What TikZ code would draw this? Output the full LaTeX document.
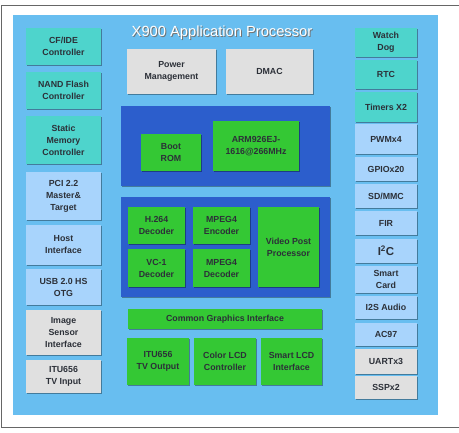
\documentclass[tikz,border=0pt]{standalone}
\usepackage{fontspec}
\setmainfont{Liberation Sans}
\usetikzlibrary{shadows}
\definecolor{panel}{RGB}{104,190,240}
\definecolor{tealbox}{RGB}{78,212,204}
\definecolor{lightbox}{RGB}{168,212,252}
\definecolor{graybox}{RGB}{224,224,224}
\definecolor{darkblue}{RGB}{44,94,204}
\definecolor{greenbox}{RGB}{52,200,52}
\definecolor{txt}{RGB}{44,48,56}
\newcommand\blk[7]{\node[#2, minimum width={#5-#3}, minimum height={#6-#4}] (#1) at ({(#3+#5)/2},{(#4+#6)/2}) {#7};}
\begin{document}
\begin{tikzpicture}[x=1pt,y=-1pt,
  base/.style={inner sep=0pt, outer sep=0pt, align=center, text=txt,
    font=\fontsize{8.8}{12}\selectfont\bfseries,
    drop shadow={shadow xshift=1.3pt, shadow yshift=-1.3pt, opacity=0.35, fill=black}},
  teal/.style={base, fill=tealbox},
  light/.style={base, fill=lightbox},
  grey/.style={base, fill=graybox},
  dblue/.style={base, fill=darkblue},
  green/.style={base, fill=greenbox},
]
\useasboundingbox (0,0) rectangle (459,433);
\fill[white] (0,0) rectangle (459,433);
\draw[gray!80!black, line width=0.8pt] (459,5.5) -- (1.5,5.5) -- (1.5,427.5) -- (459,427.5);
\fill[panel] (13,15) rectangle (438,415);
% title
\node[text=black!55, font=\fontsize{14.7}{16}\selectfont] (titleshadow) at (223,33.8) {X900 Application Processor};
\node[text=white, font=\fontsize{14.7}{16}\selectfont] (title) at (222,33) {X900 Application Processor};
% left column
\blk{cfide}{teal}{26}{28}{101}{65}{CF/IDE\\Controller}
\blk{nand}{teal}{26}{72}{101}{109}{NAND Flash\\Controller}
\blk{smc}{teal}{26}{116}{101}{164}{Static\\Memory\\Controller}
\blk{pci}{light}{26}{172}{101}{220}{PCI 2.2\\Master\&\\Target}
\blk{host}{light}{26}{225}{101}{265}{Host\\Interface}
\blk{usb}{light}{26}{269}{101}{305}{USB 2.0 HS\\OTG}
\blk{isi}{grey}{26}{310}{101}{355}{Image\\Sensor\\Interface}
\blk{tvin}{grey}{26}{360}{101}{393}{ITU656\\TV Input}
% right column
\blk{wdog}{teal}{355}{28}{417}{57}{Watch\\Dog}
\blk{rtc}{teal}{355}{60}{417}{89}{RTC}
\blk{timers}{teal}{355}{92}{417}{122}{Timers X2}
\blk{pwm}{light}{355}{124}{417}{154}{PWMx4}
\blk{gpio}{light}{355}{157}{417}{181}{GPIOx20}
\blk{sdmmc}{light}{355}{184}{417}{208}{SD/MMC}
\blk{fir}{light}{355}{211}{417}{235}{FIR}
\blk{i2c}{light}{355}{239}{417}{263}{\fontsize{11.5}{12}\selectfont I\textsuperscript{2}C}
\blk{scard}{light}{355}{266}{417}{293}{Smart\\Card}
\blk{i2s}{light}{355}{296}{417}{319}{I2S Audio}
\blk{ac97}{light}{355}{323}{417}{346}{AC97}
\blk{uart}{grey}{355}{349}{417}{374}{UARTx3}
\blk{ssp}{grey}{355}{376}{417}{399}{SSPx2}
% middle
\blk{pm}{grey}{127}{49}{216}{94}{Power\\Management}
\blk{dmac}{grey}{226}{49}{313}{94}{DMAC}
\blk{cpu}{dblue}{121}{106}{330}{186}{}
\blk{boot}{green}{141}{134}{201}{171}{Boot\\ROM}
\blk{arm}{green}{213}{121}{299}{171}{ARM926EJ-\\1616@266MHz}
\blk{video}{dblue}{121}{197}{330}{297}{}
\blk{h264}{green}{128}{207}{185}{244}{H.264\\Decoder}
\blk{vc1}{green}{128}{249}{185}{287}{VC-1\\Decoder}
\blk{menc}{green}{193}{207}{250}{244}{MPEG4\\Encoder}
\blk{mdec}{green}{193}{249}{250}{287}{MPEG4\\Decoder}
\blk{vpp}{green}{258}{207}{319}{287}{Video Post\\Processor}
\blk{cgi}{green}{128}{309}{322}{329}{Common Graphics Interface}
\blk{tvout}{green}{127}{338}{189}{385}{ITU656\\TV Output}
\blk{clcd}{green}{194}{338}{256}{385}{Color LCD\\Controller}
\blk{slcd}{green}{261}{338}{322}{385}{Smart LCD\\Interface}
\end{tikzpicture}
\end{document}
